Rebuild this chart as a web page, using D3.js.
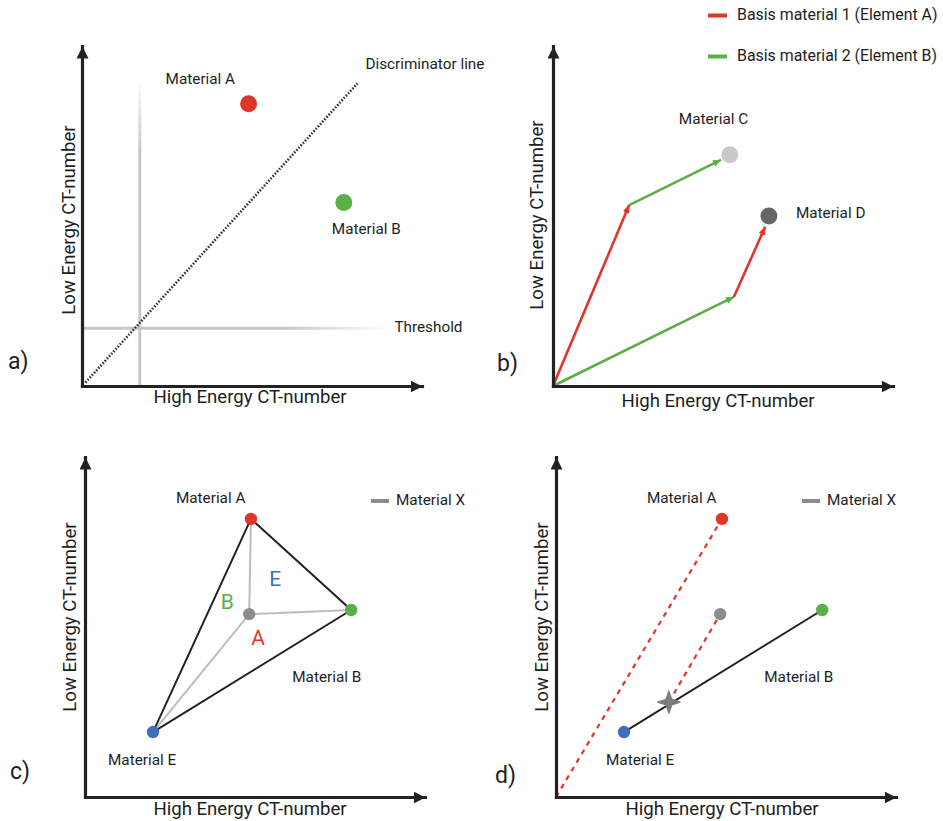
<!DOCTYPE html>
<html>
<head>
<meta charset="utf-8">
<script src="https://cdn.jsdelivr.net/npm/d3@7"></script>
<style>
  body { margin: 0; background: #fff; }
  svg { display: block; }
  text { font-family: Roboto, "Open Sans", sans-serif; fill: #1e1e1e; }
</style>
</head>
<body>
<svg id="fig" width="943" height="821"></svg>
<script>
// ---------- values (CT-number space, arbitrary 0–100 units) ----------
const axisTitleX = "High Energy CT-number";
const axisTitleY = "Low Energy CT-number";
const panelLetters = ["a)", "b)", "c)", "d)"];

// (a) two materials separated by a discriminator line and thresholds
const separationMaterials = [
  { name: "Material A", x: 49, y: 83 },
  { name: "Material B", x: 77, y: 54 }
];
const thresholdHigh = 17;          // vertical threshold (high energy)
const thresholdLow = 17;           // horizontal threshold (low energy)
const thresholdExtent = 91;        // how far the threshold guides run
const discriminator = [{ x: 1, y: 1 }, { x: 81, y: 89 }];

// (b) two-material decomposition
const basisNames = ["Basis material 1 (Element A)", "Basis material 2 (Element B)"];
const decompMaterials = [
  { name: "Material C", x: 52, y: 68 },
  { name: "Material D", x: 63.5, y: 50 }
];
// each step: which basis material, start and end in CT-number space
const decompSteps = [
  { basis: 0, x0: 0, y0: 0, x1: 22.4, y1: 53.2 },
  { basis: 1, x0: 22.4, y0: 53.2, x1: 49.4, y1: 66.5 },
  { basis: 1, x0: 0, y0: 0, x1: 53.2, y1: 26.2 },
  { basis: 0, x0: 53.2, y0: 26.2, x1: 62.4, y1: 46.8 }
];

// (c), (d) three-material decomposition
const tripleMaterials = [
  { key: "A", name: "Material A", x: 48.8, y: 81.8 },
  { key: "B", name: "Material B", x: 78.3, y: 55.0 },
  { key: "E", name: "Material E", x: 20.0, y: 19.1 }
];
const materialX = { name: "Material X", x: 48.3, y: 53.8 };
const projectedX = { x: 33.2, y: 27.9 };   // X moved along the A direction onto the E–B line
const fractionLabels = ["E", "B", "A"];

// ---------- styling ----------
const colors = {
  axis: "#222", A: "#e0352b", B: "#5aaf47", E: "#3f6dbf",
  X: "#8a8d90", C: "#c9c9c9", D: "#666666", guide: "#c6c6c6"
};
const basisColors = [colors.A, colors.B];
const SIZE = 340;
const LABEL_SIZE = 15.3;
const TITLE_SIZE = 18.6;

const svg = d3.select("#fig");
const defs = svg.append("defs");

function arrowMarker(id, color, w, h) {
  defs.append("marker")
    .attr("id", id).attr("viewBox", `0 0 ${w} ${h}`)
    .attr("refX", w).attr("refY", h / 2)
    .attr("markerWidth", w).attr("markerHeight", h)
    .attr("markerUnits", "userSpaceOnUse").attr("orient", "auto")
    .append("path").attr("d", `M0,0 L${w},${h / 2} L0,${h} Z`).attr("fill", color);
}
arrowMarker("axisArrow", colors.axis, 12, 12);
arrowMarker("redArrow", colors.A, 8, 7);
arrowMarker("greenArrow", colors.B, 8, 7);

// panel frames: origin of the axes on the page
const panels = [
  { ox: 82, oy: 386, xt: [168, 12], yt: [-12, -166], letter: [8, -23] },
  { ox: 553, oy: 386, xt: [165, 16], yt: [-15, -171], letter: [-56, -21] },
  { ox: 85, oy: 797, xt: [165, 13], yt: [-14, -180], letter: [-75, -24] },
  { ox: 556, oy: 797, xt: [166, 13], yt: [-13, -180], letter: [-61, -20] }
];

function makePanel(p, i) {
  const x = d3.scaleLinear().domain([0, 100]).range([p.ox, p.ox + SIZE]);
  const y = d3.scaleLinear().domain([0, 100]).range([p.oy, p.oy - SIZE]);
  const g = svg.append("g");
  const marks = g.append("g");
  const axes = g.append("g");

  const ax = axes.append("g").attr("transform", `translate(0,${p.oy})`)
    .call(d3.axisBottom(x).tickValues([]).tickSizeOuter(0));
  const ay = axes.append("g").attr("transform", `translate(${p.ox},0)`)
    .call(d3.axisLeft(y).tickValues([]).tickSizeOuter(0));
  [ax, ay].forEach(a => a.select(".domain")
    .attr("stroke", colors.axis).attr("stroke-width", 3.2)
    .attr("stroke-linecap", "square").attr("marker-end", "url(#axisArrow)"));

  g.append("text").attr("x", p.ox + p.xt[0]).attr("y", p.oy + p.xt[1])
    .attr("text-anchor", "middle").attr("dominant-baseline", "middle")
    .attr("font-size", TITLE_SIZE).text(axisTitleX);
  g.append("text")
    .attr("transform", `translate(${p.ox + p.yt[0]},${p.oy + p.yt[1]}) rotate(-90)`)
    .attr("text-anchor", "middle").attr("dominant-baseline", "middle")
    .attr("font-size", TITLE_SIZE).text(axisTitleY);
  g.append("text").attr("x", p.letter[0] < 0 ? p.ox + p.letter[0] : p.letter[0])
    .attr("y", p.oy + p.letter[1]).attr("dominant-baseline", "middle")
    .attr("font-size", 23).text(panelLetters[i]);
  return { g: marks, root: g, x, y };
}

function label(g, px, py, text, opts = {}) {
  return g.append("text").attr("x", px).attr("y", py)
    .attr("dominant-baseline", "middle")
    .attr("text-anchor", opts.anchor || "start")
    .attr("font-size", opts.size || LABEL_SIZE)
    .style("fill", opts.color || "#1e1e1e").text(text);
}

// ---------- (a) ----------
{
  const { g, root, x, y } = makePanel(panels[0], 0);
  const gv = defs.append("linearGradient").attr("id", "fadeUp")
    .attr("gradientUnits", "userSpaceOnUse")
    .attr("x1", 0).attr("y1", y(0)).attr("x2", 0).attr("y2", y(thresholdExtent));
  gv.append("stop").attr("offset", 0).attr("stop-color", colors.guide);
  gv.append("stop").attr("offset", 0.75).attr("stop-color", colors.guide);
  gv.append("stop").attr("offset", 1).attr("stop-color", "#fff");
  const gh = defs.append("linearGradient").attr("id", "fadeRight")
    .attr("gradientUnits", "userSpaceOnUse")
    .attr("x1", x(0)).attr("y1", 0).attr("x2", x(thresholdExtent)).attr("y2", 0);
  gh.append("stop").attr("offset", 0).attr("stop-color", colors.guide);
  gh.append("stop").attr("offset", 0.65).attr("stop-color", colors.guide);
  gh.append("stop").attr("offset", 1).attr("stop-color", "#fff");

  g.append("line").attr("x1", x(thresholdHigh)).attr("x2", x(thresholdHigh))
    .attr("y1", y(0)).attr("y2", y(thresholdExtent))
    .attr("stroke", "url(#fadeUp)").attr("stroke-width", 3);
  g.append("line").attr("x1", x(0)).attr("x2", x(thresholdExtent))
    .attr("y1", y(thresholdLow)).attr("y2", y(thresholdLow))
    .attr("stroke", "url(#fadeRight)").attr("stroke-width", 3);
  label(root, x(thresholdExtent) + 3, y(thresholdLow), "Threshold");

  g.append("path").datum(discriminator)
    .attr("d", d3.line().x(d => x(d.x)).y(d => y(d.y)))
    .attr("fill", "none").attr("stroke", "#333").attr("stroke-width", 2.6)
    .attr("stroke-dasharray", "1.6,1.6");
  label(root, x(discriminator[1].x) + 8, y(discriminator[1].y) - 18, "Discriminator line");

  const fills = [colors.A, colors.B];
  const offs = [[-83, -24], [-12, 28]];
  separationMaterials.forEach((m, k) => {
    g.append("circle").attr("cx", x(m.x)).attr("cy", y(m.y)).attr("r", 8.5).attr("fill", fills[k]);
    label(root, x(m.x) + offs[k][0], y(m.y) + offs[k][1], m.name);
  });
}

// ---------- (b) ----------
{
  const { g, root, x, y } = makePanel(panels[1], 1);
  const markers = ["url(#redArrow)", "url(#greenArrow)"];
  g.selectAll("line.step").data(decompSteps).join("line").attr("class", "step")
    .attr("x1", d => x(d.x0)).attr("y1", d => y(d.y0))
    .attr("x2", d => x(d.x1)).attr("y2", d => y(d.y1))
    .attr("stroke", d => basisColors[d.basis]).attr("stroke-width", 2.6)
    .attr("marker-end", d => markers[d.basis]);

  const fills = [colors.C, colors.D];
  const offs = [[-51, -35], [27, -2]];
  decompMaterials.forEach((m, k) => {
    g.append("circle").attr("cx", x(m.x)).attr("cy", y(m.y)).attr("r", 8.5).attr("fill", fills[k]);
    label(root, x(m.x) + offs[k][0], y(m.y) + offs[k][1], m.name);
  });

  // legend
  const leg = root.append("g");
  basisNames.forEach((name, k) => {
    const ly = 15.5 + k * 41;
    leg.append("line").attr("x1", 708).attr("x2", 727).attr("y1", ly).attr("y2", ly)
      .attr("stroke", basisColors[k]).attr("stroke-width", 4);
    label(leg, 737, ly, name, { size: 15.9 });
  });
}

// ---------- (c) ----------
const matColor = { A: colors.A, B: colors.B, E: colors.E };
function materialLegend(root, x0, y0) {
  root.append("line").attr("x1", x0).attr("x2", x0 + 18).attr("y1", y0).attr("y2", y0)
    .attr("stroke", colors.X).attr("stroke-width", 4);
  label(root, x0 + 25, y0, materialX.name);
}
{
  const { g, root, x, y } = makePanel(panels[2], 2);
  // connections from Material X to each pure material
  tripleMaterials.forEach(m => {
    g.append("line").attr("x1", x(materialX.x)).attr("y1", y(materialX.y))
      .attr("x2", x(m.x)).attr("y2", y(m.y))
      .attr("stroke", "#bdbdbd").attr("stroke-width", 2);
  });
  const tri = tripleMaterials.concat([tripleMaterials[0]]);
  g.append("path").datum(tri).attr("d", d3.line().x(d => x(d.x)).y(d => y(d.y)))
    .attr("fill", "none").attr("stroke", "#222").attr("stroke-width", 2).attr("stroke-linejoin", "round");

  const fracOffs = { E: [26, -34], B: [-22, -11], A: [9, 25] };
  fractionLabels.forEach(k => {
    label(root, x(materialX.x) + fracOffs[k][0], y(materialX.y) + fracOffs[k][1], k,
      { anchor: "middle", size: 21, color: matColor[k] });
  });

  const offs = { A: [-75, -20], B: [-59, 68], E: [-45, 29] };
  tripleMaterials.forEach(m => {
    g.append("circle").attr("cx", x(m.x)).attr("cy", y(m.y)).attr("r", 6.2).attr("fill", matColor[m.key]);
    label(root, x(m.x) + offs[m.key][0], y(m.y) + offs[m.key][1], m.name);
  });
  g.append("circle").attr("cx", x(materialX.x)).attr("cy", y(materialX.y)).attr("r", 6.2).attr("fill", colors.X);
  materialLegend(root, 371, 501);
}

// ---------- (d) ----------
// four-pointed star with softly pinched sides
const star4 = {
  draw(ctx, size) {
    const R = Math.sqrt(size) * 0.7, r = R * 0.36;
    for (let k = 0; k < 8; k++) {
      const a = k * Math.PI / 4 - Math.PI / 2;
      const rad = k % 2 ? r : R;
      const px = rad * Math.cos(a), py = rad * Math.sin(a);
      k ? ctx.lineTo(px, py) : ctx.moveTo(px, py);
    }
    ctx.closePath();
  }
};
{
  const { g, root, x, y } = makePanel(panels[3], 3);
  const [mA, mB, mE] = tripleMaterials;
  const dashed = { stroke: colors.A, width: 2.2, dash: "5,5" };
  // direction of Material A from the origin
  g.append("line").attr("x1", x(0)).attr("y1", y(0)).attr("x2", x(mA.x)).attr("y2", y(mA.y))
    .attr("stroke", dashed.stroke).attr("stroke-width", dashed.width).attr("stroke-dasharray", dashed.dash);
  // Material X shifted along that direction down to the E–B line
  g.append("line").attr("x1", x(projectedX.x)).attr("y1", y(projectedX.y))
    .attr("x2", x(materialX.x)).attr("y2", y(materialX.y))
    .attr("stroke", dashed.stroke).attr("stroke-width", dashed.width).attr("stroke-dasharray", dashed.dash);
  g.append("line").attr("x1", x(mE.x)).attr("y1", y(mE.y)).attr("x2", x(mB.x)).attr("y2", y(mB.y))
    .attr("stroke", "#222").attr("stroke-width", 2);

  g.append("path").attr("d", d3.symbol().type(star4).size(260)())
    .attr("transform", `translate(${x(projectedX.x)},${y(projectedX.y)})`)
    .attr("fill", "#7b7f83").attr("stroke", "#7b7f83").attr("stroke-width", 1.2)
    .attr("stroke-linejoin", "round");

  const offs = { A: [-75, -20], B: [-58, 68], E: [-18, 29] };
  tripleMaterials.forEach(m => {
    g.append("circle").attr("cx", x(m.x)).attr("cy", y(m.y)).attr("r", 6.2).attr("fill", matColor[m.key]);
    label(root, x(m.x) + offs[m.key][0], y(m.y) + offs[m.key][1], m.name);
  });
  g.append("circle").attr("cx", x(materialX.x)).attr("cy", y(materialX.y)).attr("r", 6.2).attr("fill", colors.X);
  materialLegend(root, 802, 501);
}
</script>
</body>
</html>
